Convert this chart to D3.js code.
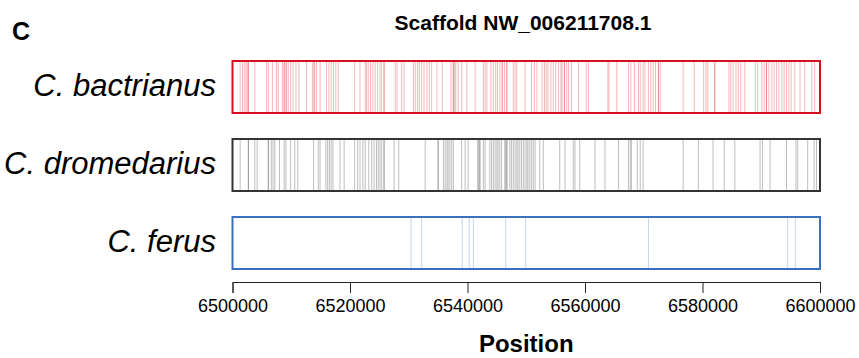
<!DOCTYPE html>
<html>
<head>
<meta charset="utf-8">
<script src="https://cdn.jsdelivr.net/npm/d3@7"></script>
<style>
  body { margin: 0; background: #fff; }
  svg { display: block; font-family: "Liberation Sans", Arial, sans-serif; }
</style>
</head>
<body>
<div id="chart"></div>
<script>
"use strict";

const title = "Scaffold NW_006211708.1";
const species = ["C. bactrianus", "C. dromedarius", "C. ferus"];
const domain = [6500000, 6600000];
const tickValues = [6500000, 6520000, 6540000, 6560000, 6580000, 6600000];

// variant positions per species (repeated values = overlapping sites)
const bactrianus = [
  6501300, 6501700, 6502000, 6502300, 6502500, 6502700, 6502700, 6503800,
  6505800, 6506100, 6506800, 6507500, 6507800, 6508500, 6508800, 6508800,
  6509100, 6509200, 6509500, 6509900, 6510300, 6510800, 6511300, 6512600,
  6513600, 6513900, 6513900, 6514300, 6514900, 6516000, 6516400, 6516800,
  6517200, 6517600, 6518000, 6520800, 6521700, 6522600, 6522800, 6523100,
  6523500, 6523900, 6524300, 6524700, 6525100, 6525400, 6525800, 6525800,
  6527700, 6528000, 6528800, 6529200, 6530800, 6531100, 6531500, 6531800,
  6532200, 6532600, 6533100, 6533500, 6533900, 6534800, 6535700, 6537200,
  6537600, 6537600, 6537800, 6538000, 6538400, 6539000, 6539900, 6541300,
  6542700, 6543000, 6543300, 6544000, 6544400, 6544800, 6545100, 6545500,
  6545900, 6545900, 6546300, 6546700, 6546700, 6547800, 6548100, 6548400,
  6549800, 6550900, 6551400, 6551800, 6552700, 6553100, 6553400, 6553700,
  6554200, 6554600, 6555000, 6555500, 6555900, 6556100, 6556500, 6556500,
  6556900, 6557200, 6557700, 6558900, 6560200, 6560600, 6563900, 6564100,
  6565400, 6567400, 6567800, 6568400, 6569100, 6569400, 6569900, 6570200,
  6570800, 6571200, 6571600, 6572000, 6572500, 6572500, 6572800, 6576700,
  6578600, 6580200, 6580600, 6580900, 6582100, 6582100, 6584500, 6584800,
  6585200, 6585700, 6586100, 6586500, 6587200, 6589000, 6589400, 6590100,
  6590500, 6590900, 6590900, 6591300, 6591800, 6592200, 6592600, 6593000,
  6593500, 6593900, 6594300, 6594700, 6595100, 6595700, 6596600, 6597400,
  6598600, 6599100
];

const dromedarius = [
  6501300, 6502700, 6502700, 6503800, 6504200, 6506100, 6506100, 6506600,
  6506900, 6507200, 6508000, 6508800, 6509100, 6509900, 6510600, 6511100,
  6513800, 6514600, 6514900, 6515900, 6516200, 6516500, 6516800, 6517100,
  6518300, 6519000, 6520800, 6521300, 6521700, 6522200, 6522600, 6523200,
  6523700, 6524100, 6524500, 6524800, 6525100, 6525400, 6525800, 6525800,
  6527500, 6528300, 6532800, 6535000, 6535000, 6535900, 6536200, 6536500,
  6536700, 6537000, 6537300, 6537600, 6539000, 6539600, 6540100, 6541800,
  6541800, 6542100, 6542100, 6542700, 6543000, 6543800, 6544100, 6544400,
  6544700, 6545000, 6545200, 6545500, 6545800, 6546400, 6546400, 6546700,
  6546700, 6547200, 6547500, 6547800, 6548100, 6548400, 6548600, 6548900,
  6549200, 6549500, 6549800, 6550100, 6550300, 6550600, 6550900, 6551200,
  6551500, 6552300, 6552900, 6555700, 6556600, 6558000, 6558300, 6559100,
  6561700, 6563400, 6565700, 6567400, 6567700, 6567900, 6568900, 6569400,
  6569900, 6576700, 6579300, 6581800, 6583700, 6585500, 6589800, 6590200,
  6591500, 6594300, 6595900, 6596200, 6597900, 6599000, 6599400
];

const ferus = [
  6530400, 6532200, 6539100, 6540300, 6541000, 6546500, 6549900, 6570800,
  6594500, 6595800
];

const tracks = [
  { name: species[0], values: bactrianus, line: "#d7191c", box: "#d7101f", op: 0.3 },
  { name: species[1], values: dromedarius, line: "#555555", box: "#333333", op: 0.38 },
  { name: species[2], values: ferus, line: "#3b73c0", box: "#3a70bf", op: 0.3 }
];

const width = 859;
const height = 358;

const svg = d3.select("#chart").append("svg")
  .attr("width", width)
  .attr("height", height);

const x = d3.scaleLinear().domain(domain).range([232.5, 820]);

// 52px tall tracks, 26px gaps
const y = d3.scaleBand()
  .domain(species)
  .range([61, 269])
  .paddingInner(1 / 3);

// panel letter + title
svg.append("text")
  .attr("x", 12)
  .attr("y", 40)
  .attr("font-size", 25)
  .attr("font-weight", "bold")
  .text("C");

svg.append("text")
  .attr("x", 523)
  .attr("y", 30)
  .attr("text-anchor", "middle")
  .attr("font-size", 21)
  .attr("font-weight", "bold")
  .text(title);

const track = svg.selectAll("g.track")
  .data(tracks)
  .join("g")
  .attr("class", "track");

track.append("g")
  .selectAll("line")
  .data((d) => d.values.map((v) => ({ v: v, c: d.line, op: d.op, name: d.name })))
  .join("line")
  .attr("x1", (d) => x(d.v))
  .attr("x2", (d) => x(d.v))
  .attr("y1", (d) => y(d.name))
  .attr("y2", (d) => y(d.name) + y.bandwidth())
  .attr("stroke", (d) => d.c)
  .attr("stroke-opacity", (d) => d.op)
  .attr("stroke-width", 1);

track.append("rect")
  .attr("x", x(domain[0]))
  .attr("y", (d) => y(d.name))
  .attr("width", x(domain[1]) - x(domain[0]))
  .attr("height", y.bandwidth())
  .attr("fill", "none")
  .attr("stroke", (d) => d.box)
  .attr("stroke-width", 2);

track.append("text")
  .attr("x", 216)
  .attr("y", (d) => y(d.name) + y.bandwidth() / 2 + 9)
  .attr("text-anchor", "end")
  .attr("font-size", 31)
  .attr("font-style", "italic")
  .text((d) => d.name);

// x axis
const axis = svg.append("g")
  .attr("transform", "translate(0,282)")
  .call(d3.axisBottom(x).tickValues(tickValues).tickFormat(d3.format("d")).tickSize(11).tickPadding(6));

axis.select(".domain").attr("stroke", "#222").attr("stroke-width", 1);
axis.selectAll(".tick line").attr("stroke", "#222");
axis.selectAll(".tick text")
  .attr("font-family", "'Liberation Sans', Arial, sans-serif")
  .attr("font-size", 18)
  .attr("fill", "#000");

svg.append("text")
  .attr("x", x((domain[0] + domain[1]) / 2))
  .attr("y", 352)
  .attr("text-anchor", "middle")
  .attr("font-size", 24)
  .attr("font-weight", "bold")
  .text("Position");
</script>
</body>
</html>
